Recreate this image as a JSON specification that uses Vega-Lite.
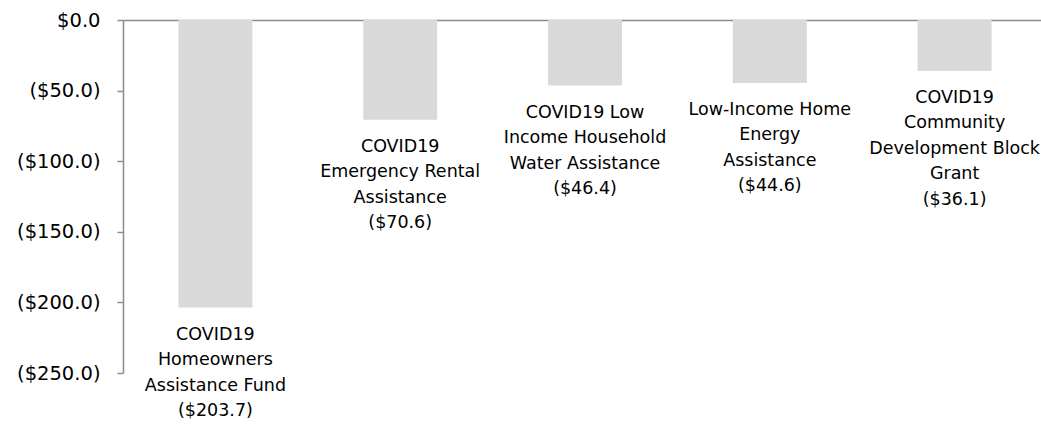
{
  "$schema": "https://vega.github.io/schema/vega-lite/v6.json",
  "autosize": {"type": "none"},
  "width": 924,
  "height": 353,
  "padding": {"left": 123, "top": 20, "right": 0, "bottom": 58},
  "background": "white",
  "config": {"view": {"stroke": null}, "font": "DejaVu Sans"},
  "data": {
    "values": [
      {"program": "COVID19 Homeowners Assistance Fund", "label": "COVID19\nHomeowners\nAssistance Fund\n($203.7)", "value": -203.7},
      {"program": "COVID19 Emergency Rental Assistance", "label": "COVID19\nEmergency Rental\nAssistance\n($70.6)", "value": -70.6},
      {"program": "COVID19 Low Income Household Water Assistance", "label": "COVID19 Low\nIncome Household\nWater Assistance\n($46.4)", "value": -46.4},
      {"program": "Low-Income Home Energy Assistance", "label": "Low-Income Home\nEnergy\nAssistance\n($44.6)", "value": -44.6},
      {"program": "COVID19 Community Development Block Grant", "label": "COVID19\nCommunity\nDevelopment Block\nGrant\n($36.1)", "value": -36.1}
    ]
  },
  "encoding": {
    "x": {
      "field": "program",
      "type": "nominal",
      "sort": null,
      "scale": {"paddingInner": 0.6, "paddingOuter": 0.3},
      "axis": {
        "orient": "top",
        "title": null,
        "labels": false,
        "ticks": false,
        "domain": true,
        "domainColor": "#8c8c8c",
        "domainWidth": 1.5
      }
    },
    "y": {
      "field": "value",
      "type": "quantitative",
      "scale": {"domain": [-250, 0], "nice": false},
      "axis": {
        "title": null,
        "values": [0, -50, -100, -150, -200, -250],
        "labelExpr": "datum.value == 0 ? '$0.0' : '($' + format(-datum.value, '.1f') + ')'",
        "grid": false,
        "domainColor": "#8c8c8c",
        "domainWidth": 1.5,
        "tickColor": "#8c8c8c",
        "tickWidth": 1.5,
        "tickSize": 6,
        "labelPadding": 17,
        "labelFontSize": 19.5,
        "labelColor": "#000000",
        "labelFont": "DejaVu Sans"
      }
    }
  },
  "layer": [
    {"mark": {"type": "bar", "color": "#d9d9d9"}},
    {
      "mark": {
        "type": "text",
        "baseline": "top",
        "align": "center",
        "dy": 18,
        "fontSize": 17.5,
        "lineHeight": 25.5,
        "lineBreak": "\n",
        "color": "#000000",
        "font": "DejaVu Sans"
      },
      "encoding": {"text": {"field": "label"}}
    }
  ]
}
